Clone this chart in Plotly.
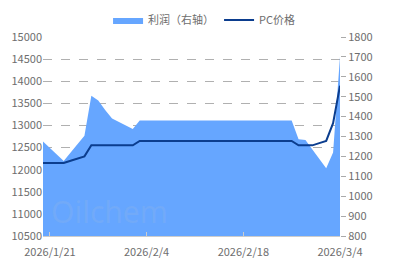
import pandas as pd
import plotly.graph_objects as go

dates = pd.date_range("2026-01-20", "2026-03-04", freq="D").strftime("%Y-%m-%d").tolist()

profit = [1275, 1242, 1210, 1177, 1219, 1262, 1304, 1505, 1481, 1433,
          1390, 1373, 1355, 1338, 1380, 1380, 1380, 1380, 1380, 1380,
          1380, 1380, 1380, 1380, 1380, 1380, 1380, 1380, 1380, 1380,
          1380, 1380, 1380, 1380, 1380, 1380, 1380, 1286, 1282, 1235,
          1187, 1140, 1219, 1701]

pc_price = [12150, 12150, 12150, 12150, 12200, 12250, 12300, 12550, 12550, 12550,
            12550, 12550, 12550, 12550, 12650, 12650, 12650, 12650, 12650, 12650,
            12650, 12650, 12650, 12650, 12650, 12650, 12650, 12650, 12650, 12650,
            12650, 12650, 12650, 12650, 12650, 12650, 12650, 12550, 12550, 12550,
            12600, 12650, 13050, 13900]

tick_dates = ["2026-01-21", "2026-02-04", "2026-02-18", "2026-03-04"]
tick_text = ["2026/1/21", "2026/2/4", "2026/2/18", "2026/3/4"]

left_ticks = [10500, 11000, 11500, 12000, 12500, 13000, 13500, 14000, 14500, 15000]
right_ticks = [800, 900, 1000, 1100, 1200, 1300, 1400, 1500, 1600, 1700, 1800]

FONT = "Noto Sans CJK SC"
GRAY = "#6e6e6e"

fig = go.Figure()
fig.add_trace(go.Scatter(
    x=dates, y=profit, name="利润（右轴）", mode="lines",
    line=dict(width=0, color="#66a6ff"), fill="tozeroy", fillcolor="#66a6ff",
    yaxis="y", hoverinfo="skip"))
fig.add_trace(go.Scatter(
    x=dates, y=pc_price, name="PC价格", mode="lines",
    line=dict(width=2, color="#0b3d8e"), yaxis="y2"))

fig.update_layout(
    width=397, height=265,
    margin=dict(l=43, r=57, t=37, b=29, autoexpand=False),
    paper_bgcolor="white", plot_bgcolor="white",
    font=dict(family=FONT, size=11, color=GRAY),
    xaxis=dict(type="date", range=["2026-01-20", "2026-03-04"],
               tickvals=tick_dates, ticktext=tick_text,
               showgrid=False, zeroline=False, automargin=False,
               showline=True, linecolor="#cccccc", linewidth=1,
               ticks="inside", ticklen=4, tickcolor="#cccccc",
               ticklabelstandoff=6,
               tickfont=dict(size=11, color=GRAY)),
    yaxis=dict(side="right", range=[800, 1800], tickvals=right_ticks,
               tickformat="d", automargin=False,
               showgrid=False, zeroline=False, showline=False,
               ticks="outside", ticklen=5, tickcolor="#aaaaaa",
               tickfont=dict(size=11, color=GRAY)),
    yaxis2=dict(side="left", overlaying="y", range=[10500, 15000], tickvals=left_ticks,
                tickformat="d", automargin=False,
                showgrid=True, gridcolor="#b0b0b0", griddash="dash", gridwidth=1,
                zeroline=False, showline=False, ticks="",
                tickfont=dict(size=11, color=GRAY)),
    legend=dict(orientation="h", xref="container", yref="container",
                x=0.514, xanchor="center", y=0.925, yanchor="middle",
                font=dict(size=11, color=GRAY), itemwidth=30,
                bgcolor="rgba(0,0,0,0)"),
    showlegend=True,
)

fig.add_annotation(text="Oilchem", xref="paper", yref="paper", x=0.02, y=0.01,
                   xanchor="left", yanchor="bottom", showarrow=False,
                   font=dict(family="Noto Sans", size=30, color="rgba(200,200,200,0.12)"))

fig.write_html("out.html")
